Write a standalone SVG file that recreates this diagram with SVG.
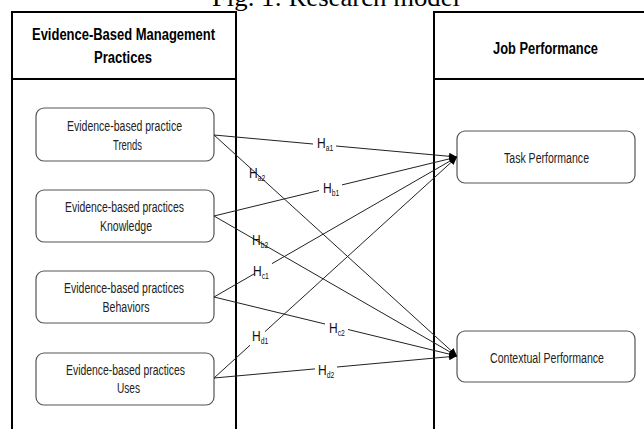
<svg xmlns="http://www.w3.org/2000/svg" width="644" height="429" viewBox="0 0 644 429">
<style>
.panel{fill:#fff;stroke:#000;stroke-width:2}
.div{stroke:#000;stroke-width:2}
.node{fill:#fff;stroke:#555;stroke-width:1.2}
.hdr{font-family:"Liberation Sans",Arial,sans-serif;font-weight:bold;font-size:16px;fill:#000}
.txt{font-family:"Liberation Sans",Arial,sans-serif;font-size:14px;fill:#222}
.lbl{font-family:"Liberation Sans",Arial,sans-serif;font-size:15px;fill:#111}
.sub{font-size:8.5px}
.ln{stroke:#222;stroke-width:1;fill:none}
.title{font-family:"Liberation Serif","Times New Roman",serif;font-size:25px;fill:#000}
</style>
<defs>
<marker id="arr" markerUnits="userSpaceOnUse" markerWidth="9" markerHeight="7" refX="8" refY="3.5" orient="auto">
<path d="M0,0 L8,3.5 L0,7 z" fill="#000"/>
</marker>
</defs>
<rect width="644" height="429" fill="#fff"/>
<text class="title" x="212" y="6" textLength="248" lengthAdjust="spacingAndGlyphs">Fig. 1: Research model</text>

<g id="panel-ebmp">
<rect class="panel" x="12" y="12" width="224" height="440"/>
<line class="div" x1="12" y1="79" x2="236" y2="79"/>
<text class="hdr" x="123.5" y="40" text-anchor="middle" textLength="183" lengthAdjust="spacingAndGlyphs">Evidence-Based Management</text>
<text class="hdr" x="123" y="63" text-anchor="middle" textLength="58" lengthAdjust="spacingAndGlyphs">Practices</text>
</g>
<g id="panel-jp">
<rect class="panel" x="434" y="12" width="240" height="440"/>
<line class="div" x1="434" y1="79" x2="674" y2="79"/>
<text class="hdr" x="545.5" y="54" text-anchor="middle" textLength="105" lengthAdjust="spacingAndGlyphs">Job Performance</text>
</g>

<g id="node-trends">
<rect class="node" x="36" y="108" width="178" height="53" rx="8"/>
<text class="txt" x="124.5" y="131" text-anchor="middle" textLength="115" lengthAdjust="spacingAndGlyphs">Evidence-based practice</text>
<text class="txt" x="127.5" y="150" text-anchor="middle" textLength="29" lengthAdjust="spacingAndGlyphs">Trends</text>
</g>
<g id="node-knowledge">
<rect class="node" x="36" y="190" width="178" height="52" rx="8"/>
<text class="txt" x="124.5" y="212" text-anchor="middle" textLength="119" lengthAdjust="spacingAndGlyphs">Evidence-based practices</text>
<text class="txt" x="126" y="231" text-anchor="middle" textLength="52" lengthAdjust="spacingAndGlyphs">Knowledge</text>
</g>
<g id="node-behaviors">
<rect class="node" x="36" y="271" width="178" height="52" rx="8"/>
<text class="txt" x="124" y="293" text-anchor="middle" textLength="120" lengthAdjust="spacingAndGlyphs">Evidence-based practices</text>
<text class="txt" x="126" y="312" text-anchor="middle" textLength="47" lengthAdjust="spacingAndGlyphs">Behaviors</text>
</g>
<g id="node-uses">
<rect class="node" x="36" y="353" width="178" height="52" rx="8"/>
<text class="txt" x="125.5" y="375" text-anchor="middle" textLength="119" lengthAdjust="spacingAndGlyphs">Evidence-based practices</text>
<text class="txt" x="128.5" y="393" text-anchor="middle" textLength="23" lengthAdjust="spacingAndGlyphs">Uses</text>
</g>
<g id="node-task">
<rect class="node" x="457" y="131" width="178" height="52" rx="8"/>
<text class="txt" x="546.5" y="163" text-anchor="middle" textLength="85" lengthAdjust="spacingAndGlyphs">Task Performance</text>
</g>
<g id="node-contextual">
<rect class="node" x="457" y="331" width="178" height="51" rx="8"/>
<text class="txt" x="547" y="363" text-anchor="middle" textLength="114" lengthAdjust="spacingAndGlyphs">Contextual Performance</text>
</g>

<g id="connectors">
<line class="ln" x1="214" y1="135" x2="313" y2="144"/>
<line class="ln" x1="336" y1="146" x2="457" y2="157" marker-end="url(#arr)"/>
<line class="ln" x1="214" y1="216" x2="319" y2="190.5"/>
<line class="ln" x1="342" y1="184.9" x2="457" y2="157" marker-end="url(#arr)"/>
<line class="ln" x1="214" y1="297" x2="255" y2="273.4"/>
<line class="ln" x1="272" y1="263.6" x2="457" y2="157" marker-end="url(#arr)"/>
<line class="ln" x1="214" y1="378" x2="250" y2="345.3"/>
<line class="ln" x1="265" y1="331.6" x2="457" y2="157" marker-end="url(#arr)"/>
<line class="ln" x1="214" y1="135" x2="457" y2="356" marker-end="url(#arr)"/>
<line class="ln" x1="214" y1="216" x2="457" y2="356" marker-end="url(#arr)"/>
<line class="ln" x1="214" y1="297" x2="325" y2="324"/>
<line class="ln" x1="348" y1="329.5" x2="457" y2="356" marker-end="url(#arr)"/>
<line class="ln" x1="214" y1="378" x2="315" y2="368.9"/>
<line class="ln" x1="337" y1="367" x2="457" y2="356" marker-end="url(#arr)"/>

<text class="lbl" transform="translate(317,148) scale(0.8,1)">H<tspan class="sub" dy="3">a1</tspan></text>
<text class="lbl" transform="translate(323,193) scale(0.8,1)">H<tspan class="sub" dy="3">b1</tspan></text>
<text class="lbl" transform="translate(249,178) scale(0.8,1)">H<tspan class="sub" dy="3">a2</tspan></text>
<text class="lbl" transform="translate(252,245) scale(0.8,1)">H<tspan class="sub" dy="3">b2</tspan></text>
<text class="lbl" transform="translate(253,276) scale(0.8,1)">H<tspan class="sub" dy="3">c1</tspan></text>
<text class="lbl" transform="translate(329,333) scale(0.8,1)">H<tspan class="sub" dy="3">c2</tspan></text>
<text class="lbl" transform="translate(252,341) scale(0.8,1)">H<tspan class="sub" dy="3">d1</tspan></text>
<text class="lbl" transform="translate(318,375) scale(0.8,1)">H<tspan class="sub" dy="3">d2</tspan></text>
</g>
</svg>
